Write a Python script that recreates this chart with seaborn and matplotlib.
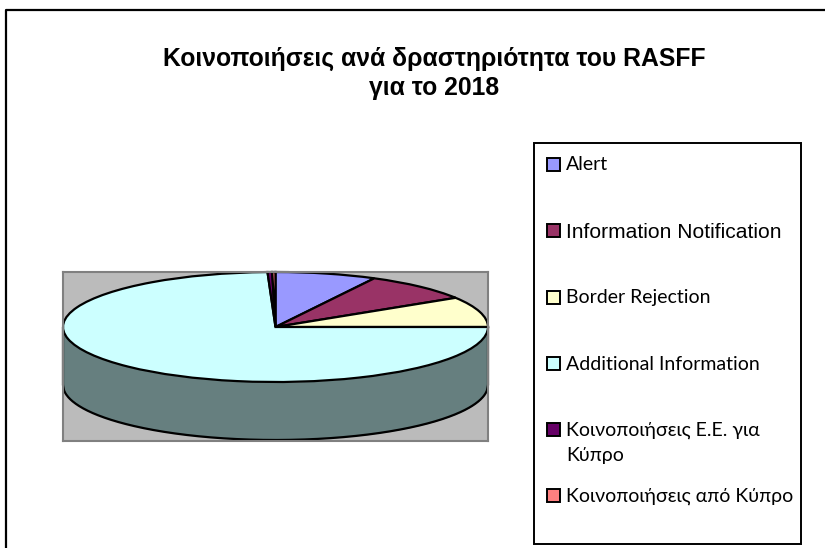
import numpy as np
import seaborn as sns
import matplotlib.pyplot as plt
from matplotlib.patches import Rectangle

sns.set_theme(style="white")

# values, in percent
labels = ['Alert', 'Information Notification', 'Border Rejection', 'Additional Information',
          'Κοινοποιήσεις Ε.Ε. για\nΚύπρο', 'Κοινοποιήσεις από Κύπρο']
values = [7.7, 8.4, 8.9, 74.4, 0.35, 0.25]
colors = ['#9999FF', '#993366', '#FFFFCC', '#CCFFFF', '#660066', '#FF8080']
legendFonts = [['Lato', 'Noto Sans'], ['Liberation Sans'], ['Lato', 'Noto Sans'], ['Lato', 'Noto Sans'],
               ['Lato', 'Noto Sans'], ['Lato', 'Noto Sans']]
legendSizes = [14, 15.1, 14, 14, 14, 14]
title = 'Κοινοποιήσεις ανά δραστηριότητα του RASFF\nγια το 2018'

W, H = 825, 548
fig = plt.figure(figsize=(W / 100, H / 100), dpi=100, facecolor='white')

# pie axes, squashed so the circle turns into the ellipse
ax = fig.add_axes([63 / W, 1 - 441 / H, 425 / W, 169 / H])
ax.pie(values, colors=colors, startangle=90, counterclock=False,
       wedgeprops={'edgecolor': 'black', 'linewidth': 1.6, 'clip_on': False})
ax.set_aspect('auto')
depth = 58 / 55
ax.set_xlim(-1, 1)
ax.set_ylim(1 - 169 / 55, 1)
ax.set_frame_on(True)
ax.set_facecolor('#BBBBBB')
for s in ax.spines.values():
    s.set_visible(True)
    s.set_color('#808080')
    s.set_linewidth(1.5)
ax.set_xticks([])
ax.set_yticks([])

# side wall of the pie
x = np.linspace(-1, 1, 400)
rim = -np.sqrt(1 - x ** 2)
ax.fill_between(x, rim, rim - depth, color='#667F7F', linewidth=0, zorder=0.5)
ax.plot(x, rim - depth, color='black', lw=1.6, zorder=0.6, clip_on=False)
ax.plot([-1, -1], [0, -depth], color='black', lw=1.6, zorder=0.6, clip_on=False)
ax.plot([1, 1], [0, -depth], color='black', lw=1.6, zorder=0.6, clip_on=False)

# overlay in pixel coordinates for frame, title and legend
over = fig.add_axes([0, 0, 1, 1], facecolor='none')
over.set_xlim(0, W)
over.set_ylim(H, 0)
over.axis('off')

over.plot([825, 6, 6], [10, 10, 548], color='black', lw=1.6, clip_on=False)
over.text(434, 73.5, title, ha='center', va='center', fontsize=17.8, fontweight='bold',
          family='Liberation Sans', color='black', linespacing=1.3)

over.add_patch(Rectangle((534, 143), 267, 401, facecolor='white', edgecolor='black', lw=1.4))
swatchY = [164, 230, 297, 363, 429, 495]
textShift = [1, 2, 1, 1, 1, 1]
for i in range(len(labels)):
    over.add_patch(Rectangle((547, swatchY[i] - 6.5), 13, 13, facecolor=colors[i], edgecolor='black', lw=1.4))
    over.text(566, swatchY[i] + textShift[i], labels[i].split('\n')[0], va='center', ha='left', fontsize=legendSizes[i],
              family=legendFonts[i], color='black')
    if '\n' in labels[i]:
        over.text(566, swatchY[i] + 27, labels[i].split('\n')[1], va='center', ha='left', fontsize=legendSizes[i],
                  family=legendFonts[i], color='black')

fig.savefig('out.png', dpi=100)
